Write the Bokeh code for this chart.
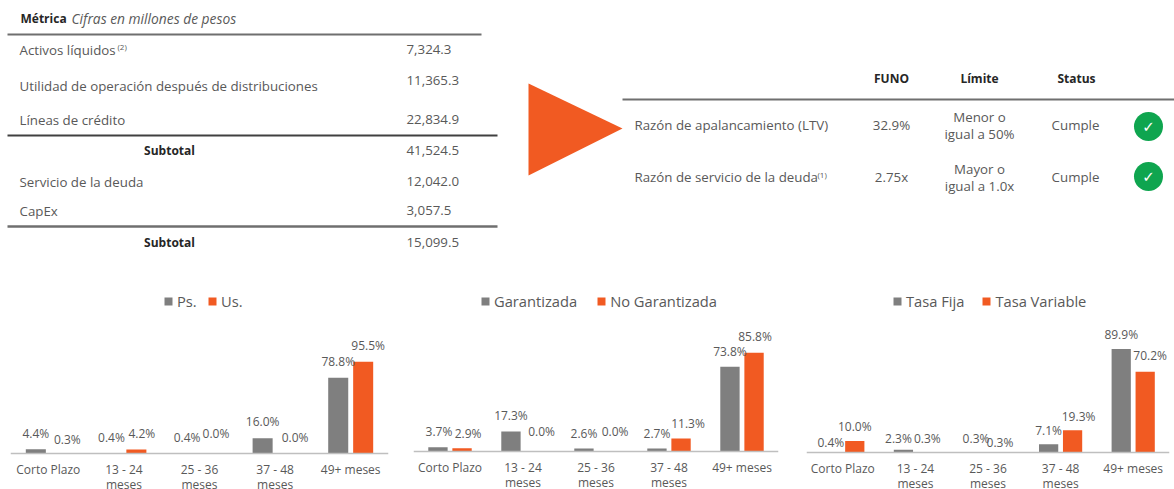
from bokeh.plotting import figure
from bokeh.layouts import column, row
from bokeh.models import ColumnDataSource, FactorRange, Range1d, Legend, LegendItem
from bokeh.transform import dodge
from bokeh.core.properties import value
from bokeh.embed import file_html
from bokeh.resources import INLINE

# ---------- data ----------
categories = ["Corto Plazo", "13 - 24\nmeses", "25 - 36\nmeses", "37 - 48\nmeses", "49+ meses"]

ps_vals = [4.4, 0.4, 0.4, 16.0, 78.8]
us_vals = [0.3, 4.2, 0.0, 0.0, 95.5]
gar_vals = [3.7, 17.3, 2.6, 2.7, 73.8]
nogar_vals = [2.9, 0.0, 0.0, 11.3, 85.8]
fija_vals = [0.4, 2.3, 0.3, 7.1, 89.9]
var_vals = [10.0, 0.3, 0.3, 19.3, 70.2]

metric_labels = ["Activos líquidos", "Utilidad de operación después de distribuciones", "Líneas de crédito",
                 "Subtotal", "Servicio de la deuda", "CapEx", "Subtotal"]
metric_values = ["7,324.3", "11,365.3", "22,834.9", "41,524.5", "12,042.0", "3,057.5", "15,099.5"]

cov_headers = ["FUNO", "Límite", "Status"]
cov_labels = ["Razón de apalancamiento (LTV)", "Razón de servicio de la deuda"]
cov_funo = ["32.9%", "2.75x"]
cov_limit_1 = ["Menor o", "Mayor o"]
cov_limit_2 = ["igual a 50%", "igual a 1.0x"]
cov_status = ["Cumple", "Cumple"]

GRAY = "#7f7f7f"
ORANGE = "#f15a22"
TXT = "#595959"
DARK = "#262626"
FONT = "Open Sans"

# ---------- top panel (tables + arrow), ranges in page pixels ----------
W, TOP_H = 1174, 285
top = figure(width=W, height=TOP_H, x_range=Range1d(0, W), y_range=Range1d(TOP_H, 0),
             output_backend="svg", toolbar_location=None, min_border=0)
top.axis.visible = False
top.grid.visible = False
top.outline_line_color = None


def t(x, y, s, size=13.3, color=TXT, align="left", style="normal"):
    top.text(x=[x], y=[y], text=[s], text_font=value(FONT), text_font_size=f"{size}px", text_color=color,
             text_align=align, text_baseline="middle", text_font_style=style)


# left table
t(20, 18, "Métrica", 12, DARK, style="bold")
t(71, 18, "Cifras en millones de pesos", 13.8, TXT, style="italic")
metric_y = [49, 85, 119, 150, 181, 210, 242]
value_y = [49, 80, 119, 150, 181, 210, 242]
for lab, val, y, vy in zip(metric_labels, metric_values, metric_y, value_y):
    if lab == "Subtotal":
        t(169, y, lab, 12, DARK, align="center", style="bold")
    else:
        t(19, y, lab)
    t(406, vy, val)
t(117, 46, "(2)", 8)
top.line([7, 481], [34, 34], line_color="#6f6f6f", line_width=2.2)
top.line([7, 497], [135, 135], line_color="#404040", line_width=2)
top.line([7, 497], [226, 226], line_color="#6f6f6f", line_width=2.6)

# arrow
top.patch([528, 622, 528], [83, 128, 175], fill_color=ORANGE, line_color=None)

# right table
for x, h in zip([891, 979, 1076], cov_headers):
    t(x, 78, h, 12, DARK, align="center", style="bold")
top.line([622, 1174], [99, 99], line_color="#6f6f6f", line_width=2.2)
for i, y in enumerate([124, 176]):
    t(634, y, cov_labels[i])
    t(891, y, cov_funo[i], align="center")
    t(979, y - 8, cov_limit_1[i], align="center")
    t(979, y + 9, cov_limit_2[i], align="center")
    t(1075, y, cov_status[i], align="center")
for cy in [126, 176]:
    top.circle(x=[1148], y=[cy], radius=14.5, fill_color="#0fa54f", line_color=None)
    top.text(x=[1148], y=[cy], text=["✓"], text_font=value("DejaVu Sans"), text_font_size="15px",
             text_color="#ffffff", text_align="center", text_baseline="middle")
t(817, 174, "(1)", 8)


# ---------- bar charts ----------
def bar_chart(fig_w, left, right, baseline_px, scale, names, a, b, a_dx, a_dy, b_dx, b_dy, leg_x, leg_spacing):
    fh = 489 - TOP_H
    p = figure(width=fig_w, height=fh, x_range=FactorRange(factors=categories, range_padding=0),
               y_range=Range1d(-(489 - baseline_px) / scale, (baseline_px - TOP_H) / scale),
               output_backend="svg", toolbar_location=None,
               min_border_left=left, min_border_right=right, min_border_top=0, min_border_bottom=0)
    p.grid.visible = False
    p.outline_line_color = None
    p.yaxis.visible = False
    ax = p.xaxis[0]
    ax.fixed_location = 0
    ax.axis_line_color = "#bfbfbf"
    ax.axis_line_width = 1.5
    ax.major_tick_line_color = None
    ax.minor_tick_line_color = None
    ax.major_label_text_color = TXT
    ax.major_label_text_font = FONT
    ax.major_label_text_font_size = "12px"
    ax.major_label_text_line_height = 0.9
    ax.major_label_standoff = 1
    ax.major_label_orientation = "horizontal"
    off, w = 0.165, 0.265
    src = ColumnDataSource(dict(
        cat=categories, a=a, b=b,
        al=[f"{v:.1f}%" for v in a], bl=[f"{v:.1f}%" for v in b],
        adx=a_dx, ady=a_dy, bdx=b_dx, bdy=b_dy))
    ra = p.vbar(x=dodge("cat", -off, range=p.x_range), top="a", width=w, source=src, fill_color=GRAY, line_color=None)
    rb = p.vbar(x=dodge("cat", off, range=p.x_range), top="b", width=w, source=src, fill_color=ORANGE, line_color=None)
    for col, lab, dx, dy, sign in (("a", "al", "adx", "ady", -1), ("b", "bl", "bdx", "bdy", 1)):
        p.text(x=dodge("cat", sign * off, range=p.x_range), y=col, text=lab, x_offset=dx, y_offset=dy, source=src,
               text_font=value(FONT), text_font_size="12px", text_color=TXT, text_align="center",
               text_baseline="middle")
    leg = Legend(items=[LegendItem(label=names[0], renderers=[ra]), LegendItem(label=names[1], renderers=[rb])],
                 location=(leg_x, 178), orientation="horizontal", padding=0, margin=0, spacing=leg_spacing,
                 glyph_width=10, glyph_height=10, label_standoff=4, border_line_color=None, background_fill_alpha=0,
                 label_text_font=FONT, label_text_font_size="14.7px", label_text_color=TXT)
    p.add_layout(leg)
    return p


c1 = bar_chart(400, 10, 12, 453, 0.96, ("Ps.", "Us."), ps_vals, us_vals,
               [0, 0, 0, 0, 0], [-16, -16, -16, -17, -16],
               [6.5, 5.5, 4, 7.5, 5], [-14, -16, -20, -16, -16], 153, 10)
c2 = bar_chart(390, 13, 12, 451, 1.15, ("Garantizada", "No Garantizada"), gar_vals, nogar_vals,
               [1, 0, 0, 0, 0], [-16, -16, -15, -15, -15],
               [6, 6.5, 7, 7, 1], [-15, -20, -20, -15, -16], 67, 19)
c3 = bar_chart(384, 16, 5, 452, 1.15, ("Tasa Fija", "Tasa Variable"), fija_vals, var_vals,
               [0, -5, 0, 0, 0], [-10, -11, -14, -14, -15],
               [0, 0, 0, 6, 5], [-15, -14, -10, -14, -16], 86, 17)

page = column(top, row(c1, c2, c3, spacing=0), spacing=0)
open("out.html", "w").write(file_html(page, INLINE))
